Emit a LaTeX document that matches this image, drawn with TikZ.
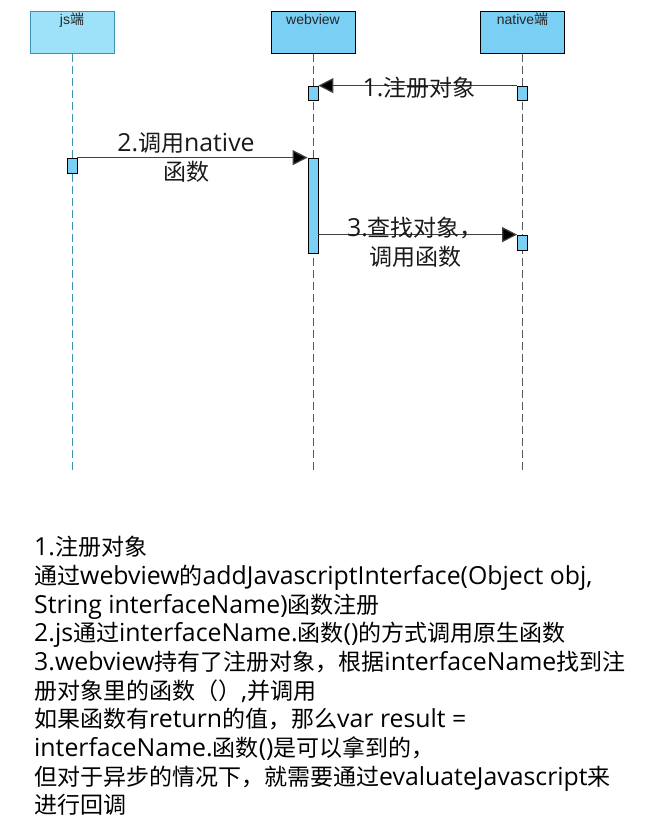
\documentclass[tikz,border=0pt]{standalone}
\usepackage{fontspec}
\setmainfont{Open Sans}[Scale=1.08]
\newfontfamily\cjkfont{Noto Sans CJK SC}
\newfontfamily\headfont{Liberation Sans}
\usetikzlibrary{arrows.meta}

% chinese characters switch to the cjk font
\XeTeXinterchartokenstate=1
\newXeTeXintercharclass\zhclass
\newcount\zhcode
\newcommand\setzhrange[2]{\zhcode=#1\relax
  \loop\XeTeXcharclass\zhcode=\zhclass
  \ifnum\zhcode<#2\advance\zhcode by 1\repeat}
\setzhrange{"4E00}{"9FFF}
\setzhrange{"3000}{"303F}
\setzhrange{"FF01}{"FF5E}
\XeTeXinterchartoks 0 \zhclass = {\begingroup\cjkfont}
\XeTeXinterchartoks 4095 \zhclass = {\begingroup\cjkfont}
\XeTeXinterchartoks \zhclass 0 = {\endgroup}
\XeTeXinterchartoks \zhclass 4095 = {\endgroup}

\definecolor{jsfill}{HTML}{9DE2F9}
\definecolor{jsline}{HTML}{3E93B4}
\definecolor{objfill}{HTML}{7ACFF4}
\definecolor{msgline}{HTML}{404040}

\begin{document}
\begin{tikzpicture}[x=1pt,y=-1pt,
  head/.style={rectangle, draw=black, fill=objfill, line width=1pt,
    minimum width=84pt, inner sep=3pt, text height=10.5pt, text depth=25.5pt,
    font=\headfont\fontsize{14pt}{16pt}\selectfont, text=black!85},
  lifeline/.style={dashed, dash pattern=on 8pt off 4pt, line width=1pt, draw=black!65},
  act/.style={rectangle, draw=black, fill=objfill, line width=0.8pt,
    minimum width=10pt, inner sep=0pt},
  msg/.style={draw=msgline, line width=1.2pt,
    -{Triangle[length=15pt,width=15pt,fill=black]}},
  msglabel/.style={align=center, font=\fontsize{23pt}{28.7pt}\selectfont, text=black!90}]

  \useasboundingbox (0,0) rectangle (662,831);

% define the objects
  \node[head, fill=jsfill, draw=jsline] (js)      at (72,32)    {js端};
  \node[head]                           (webview) at (313,32)   {webview};
  \node[head]                           (native)  at (522.5,32) {native端};

  \coordinate (jsend)      at (72,470);
  \coordinate (webviewend) at (313,470);
  \coordinate (nativeend)  at (522.5,470);

% define the lifelines
  \draw[lifeline, draw=jsline] (js) -- (jsend);
  \draw[lifeline] (webview) -- (webviewend);
  \draw[lifeline] (native) -- (nativeend);

% define the activations
  \node[act, minimum height=14pt] (wa1) at (313,93)    {};
  \node[act, minimum height=14pt] (na1) at (522.5,93)  {};
  \node[act, minimum height=15pt] (ja1) at (72,165.5)  {};
  \node[act, minimum height=95pt] (wa2) at (313,205.5) {};
  \node[act, minimum height=15pt] (na2) at (522.5,242.5) {};

% define the messages
  \draw[msg] (na1.north west) -- (wa1.north east);
  \draw[msg] (ja1.north east) -- (wa2.north west);
  \draw[msg] (na2.north west -| wa2.east) -- (na2.north west);

  \node[msglabel] (m1) at (419,88)    {1.注册对象};
  \node[msglabel] (m2) at (186,157.5) {2.调用native\\函数};
  \node[msglabel] (m3) at (415,242.5) {3.查找对象，\\调用函数};

% define the notes
  \node[anchor=north west, align=left, inner sep=0pt,
    font=\fontsize{23pt}{28.7pt}\selectfont, text=black] (notes) at (34,536) {%
1.注册对象\\
通过webview的addJavascriptInterface(Object obj,\\
String interfaceName)函数注册\\
2.js通过interfaceName.函数()的方式调用原生函数\\
3.webview持有了注册对象，根据interfaceName找到注\\
册对象里的函数（）,并调用\\
如果函数有return的值，那么var result =\\
interfaceName.函数()是可以拿到的，\\
但对于异步的情况下，就需要通过evaluateJavascript来\\
进行回调};

\end{tikzpicture}
\end{document}
